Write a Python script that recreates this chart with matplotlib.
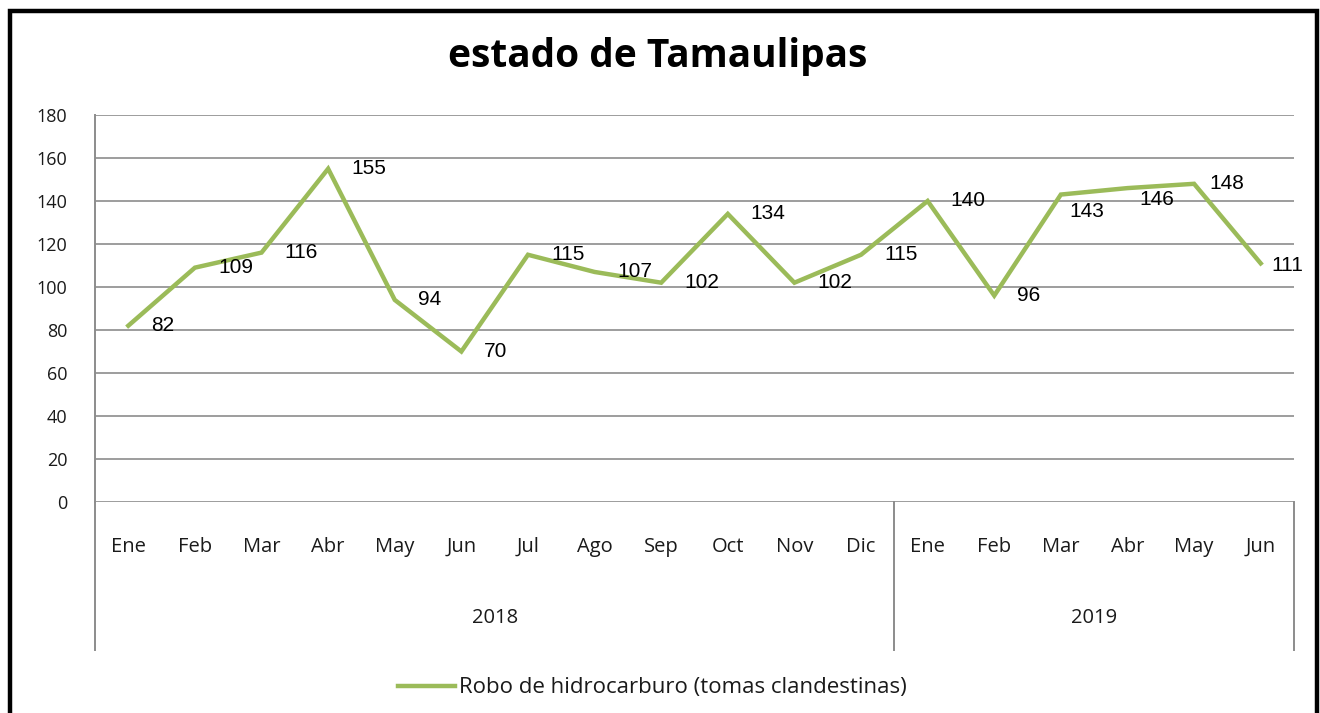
import matplotlib
matplotlib.use("Agg")
import matplotlib.pyplot as plt
from matplotlib.patches import Rectangle
from matplotlib.lines import Line2D

months = ["Ene", "Feb", "Mar", "Abr", "May", "Jun", "Jul", "Ago", "Sep", "Oct", "Nov", "Dic",
          "Ene", "Feb", "Mar", "Abr", "May", "Jun"]
years = ["2018", "2019"]
year_counts = [12, 6]
values = [82, 109, 116, 155, 94, 70, 115, 107, 102, 134, 102, 115,
          140, 96, 143, 146, 148, 111]
series_name = "Robo de hidrocarburo (tomas clandestinas)"
title = "estado de Tamaulipas"

# label placement nudges (pixels, relative to the point), default right of point
label_nudge = {14: (9, -17), 15: (12, -11), 16: (15, 0), 17: (11, -2)}
DEFAULT_NUDGE = (23, 0)

FONT = "Open Sans"
W, H = 1320, 713
fig = plt.figure(figsize=(W / 100, H / 100), dpi=100)
fig.patch.set_facecolor("white")

# outer black frame
fig.add_artist(Rectangle((10 / W, -0.05), (1317 - 10) / W, 1.05 - 11.5 / H,
                         transform=fig.transFigure, fill=False, ec="black", lw=3.2))

L, R, T, B = 95, 1294, 115, 502
ax = fig.add_axes([L / W, 1 - B / H, (R - L) / W, (B - T) / H])
n = len(values)
x = [i + 0.5 for i in range(n)]
ax.set_xlim(0, n)
ax.set_ylim(0, 180)
ax.set_yticks(range(0, 181, 20))
ax.grid(axis="y", color="#8c8c8c", lw=1.2)
ax.set_axisbelow(True)
for s in ["top", "right", "bottom"]:
    ax.spines[s].set_visible(False)
ax.spines["left"].set_color("#8c8c8c")
ax.spines["left"].set_linewidth(1.4)
ax.tick_params(axis="y", length=0, pad=20, labelsize=13, labelcolor="#1a1a1a")
for lbl in ax.get_yticklabels():
    lbl.set_fontfamily(FONT)

ax.set_xticks(x)
ax.set_xticklabels(months, fontfamily=FONT, fontsize=14.5, color="#1a1a1a")
ax.tick_params(axis="x", length=0, pad=25)

ax.plot(x, values, color="#9BBB59", lw=3.2, solid_joinstyle="miter", clip_on=False)
for i, (xi, v) in enumerate(zip(x, values)):
    dx, dy = label_nudge.get(i, DEFAULT_NUDGE)
    ax.annotate(str(v), (xi, v), xytext=(dx * 0.72, dy * 0.72), textcoords="offset points",
                ha="left", va="center", fontsize=15,
                fontfamily="Liberation Sans", color="black")

# hierarchical axis lines
tr = ax.get_xaxis_transform()
ybot = (B - 650) / (B - T)
ax.add_line(Line2D([0, 0], [0, ybot], transform=tr, color="#8c8c8c", lw=1.4, clip_on=False))
pos = 0
for yr, c in zip(years, year_counts):
    ax.add_line(Line2D([pos + c, pos + c], [0, ybot], transform=tr, color="#8c8c8c",
                       lw=1.4, clip_on=False))
    ax.text(pos + c / 2, (B - 618) / (B - T), yr, transform=tr, ha="center", va="center",
            fontsize=14.5, fontfamily=FONT, color="#1a1a1a")
    pos += c

fig.text(658 / W, 1 - 57 / H, title, ha="center", va="center", fontsize=28,
         fontweight="bold", fontfamily=FONT, color="black")

# legend
ly = 1 - 686 / H
fig.add_artist(Line2D([398 / W, 455 / W], [ly, ly], transform=fig.transFigure,
                      color="#9BBB59", lw=3.2))
fig.text(459 / W, 1 - 687 / H, series_name, ha="left", va="center", fontsize=16,
         fontfamily=FONT, color="#1a1a1a")

fig.savefig("out.png", dpi=100)
